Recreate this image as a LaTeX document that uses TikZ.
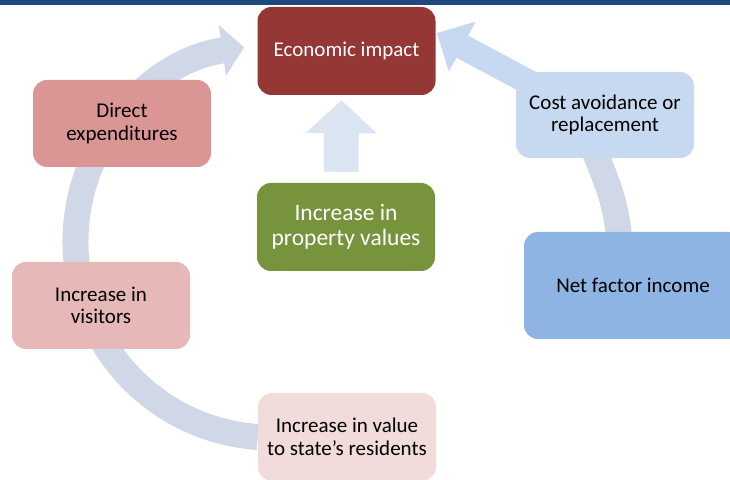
\documentclass[tikz,border=0pt]{standalone}
\usepackage{fontspec}
\setmainfont{Carlito}
\usetikzlibrary{arrows.meta,backgrounds}
\definecolor{slideblue}{RGB}{31,73,125}
\definecolor{econred}{RGB}{149,55,53}
\definecolor{directred}{RGB}{217,150,148}
\definecolor{visitred}{RGB}{230,185,184}
\definecolor{valuered}{RGB}{242,220,219}
\definecolor{propgreen}{RGB}{119,147,60}
\definecolor{costblue}{RGB}{198,217,241}
\definecolor{netblue}{RGB}{142,180,227}
\definecolor{cyclegray}{RGB}{208,216,232}
\definecolor{upblue}{RGB}{219,229,241}

\begin{document}
\begin{tikzpicture}[x=1pt,y=1pt,
    box/.style={rectangle, rounded corners=14pt, minimum width=178pt,
      minimum height=88pt, inner sep=0pt, align=center,
      font=\fontsize{21}{22.5}\selectfont},
    cyclearrow/.style={draw=cyclegray, line width=26pt,
      -{Triangle[width=50pt,length=22pt]}},
    uparrow/.style={draw=upblue, line width=35pt,
      -{Triangle[width=69pt,length=33pt]}},
    costarrow/.style={draw=costblue, line width=25pt,
      -{Triangle[width=55pt,length=29pt]}}]
    \useasboundingbox (0,0) rectangle (730,479);
    % Slide rule
    \fill[slideblue] (0,474) rectangle (730,479);
    \begin{scope}
    \clip (0,0) rectangle (730,479);
    % Boxes
    \node[box, fill=econred, text=white] (econ) at (346.5,428) {Economic impact};
    \node[box, fill=directred, minimum height=87pt] (direct) at (122,355.5) {Direct\\expenditures};
    \node[box, fill=visitred, minimum height=87pt] (visitors) at (101,173.5) {Increase in\\visitors};
    \node[box, fill=valuered] (value) at (347,42) {Increase in value\\to state's residents};
    \node[box, fill=propgreen, text=white,
      font=\fontsize{23.5}{25}\selectfont] (prop) at (346,252) {Increase in\\property values};
    \node[box, fill=costblue, minimum height=86pt] (cost) at (605,364) {Cost avoidance or\\replacement};
    \node[box, fill=netblue, minimum width=218pt, minimum height=107pt] (net) at (633,193.5) {Net factor income};
    % Arrows behind the boxes
    \begin{scope}[on background layer]
      \draw[cyclearrow] (value.west) arc[start angle=266, end angle=98, radius=196];
      \draw[cyclegray, line width=26pt] ([xshift=-11pt,yshift=8pt]cost.south)
        to[out=-68,in=95] ([xshift=-14pt,yshift=-6pt]net.north);
      \draw[costarrow] ([yshift=-8pt]cost.center) -- ([xshift=1pt,yshift=18pt]econ.east);
      \draw[uparrow] ([xshift=-5pt,yshift=11pt]prop.north) -- ([xshift=-5pt,yshift=-5pt]econ.south);
    \end{scope}
    \end{scope}
\end{tikzpicture}
\end{document}
